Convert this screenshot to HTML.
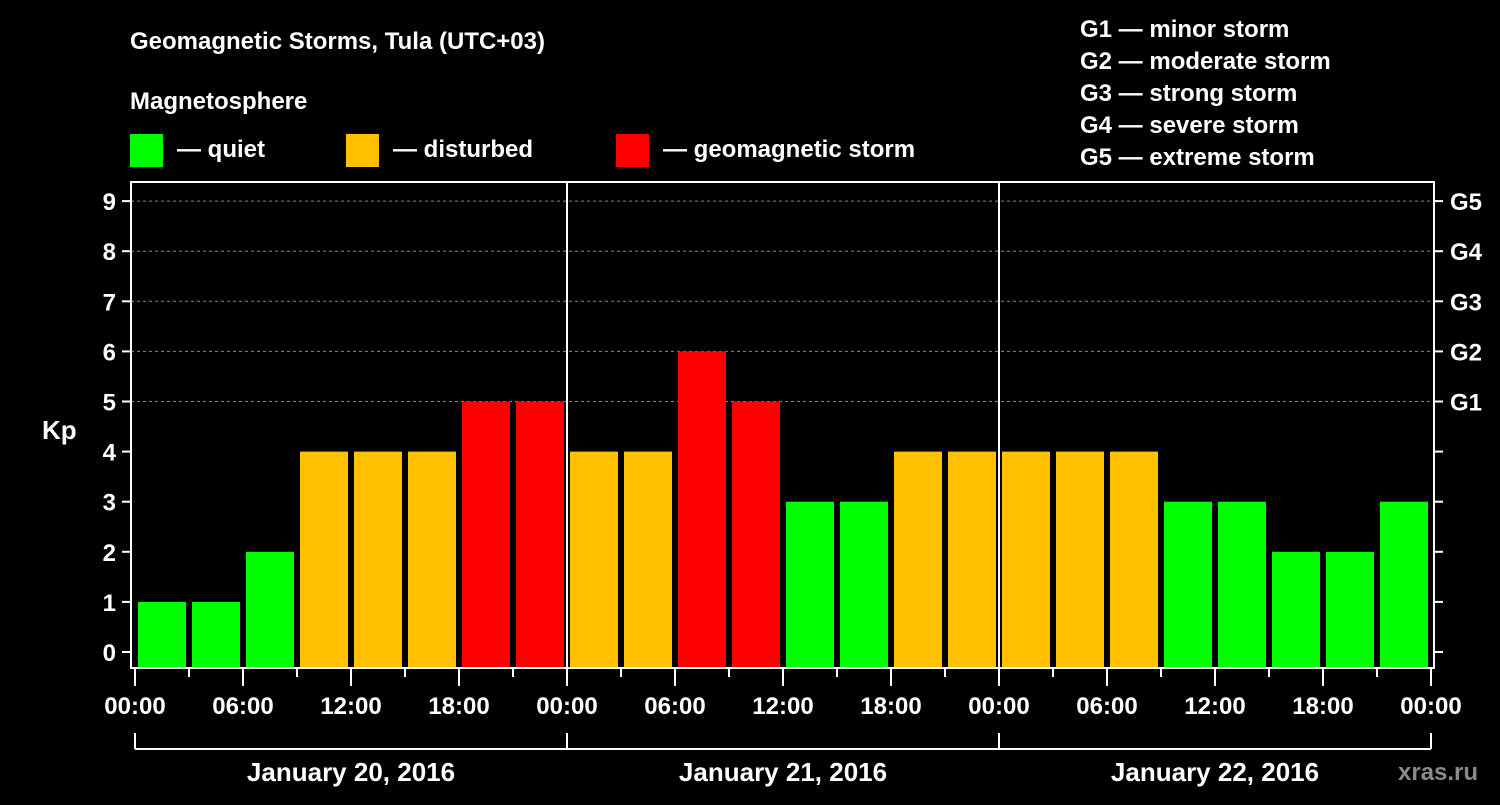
<!DOCTYPE html>
<html><head><meta charset="utf-8"><style>
body{margin:0;background:#000;}
svg text{font-family:"Liberation Sans",Arial,sans-serif;font-weight:bold;fill:#fff;}
</style></head><body>
<svg width="1500" height="800" xmlns="http://www.w3.org/2000/svg">
<rect width="1500" height="800" fill="#000"/>
<text x="130" y="49" font-size="24">Geomagnetic Storms, Tula (UTC+03)</text>
<text x="130" y="109" font-size="24">Magnetosphere</text>
<g><rect x="130" y="134" width="33" height="33" fill="#00ff00"/><text x="177" y="157" font-size="24">— quiet</text></g>
<g><rect x="346" y="134" width="33" height="33" fill="#ffc000"/><text x="393" y="157" font-size="24">— disturbed</text></g>
<g><rect x="616" y="134" width="33" height="33" fill="#ff0000"/><text x="663" y="157" font-size="24">— geomagnetic storm</text></g>
<g font-size="24">
<text x="1080" y="37">G1 — minor storm</text>
<text x="1080" y="69">G2 — moderate storm</text>
<text x="1080" y="101">G3 — strong storm</text>
<text x="1080" y="133">G4 — severe storm</text>
<text x="1080" y="165">G5 — extreme storm</text>
</g>
<text x="42" y="439" font-size="26">Kp</text>
<text x="1398" y="780" font-size="24" fill="#888" style="fill:#8a8a8a">xras.ru</text>
<g id="grid"></g><g id="bars"></g><g id="axes"></g>
<script>
const values=[1,1,2,4,4,4,5,5,4,4,6,5,3,3,4,4,4,4,4,3,3,2,2,3];
const yTicks=[0,1,2,3,4,5,6,7,8,9];
const gLabels=["G1","G2","G3","G4","G5"];
const gLevels=[5,6,7,8,9];
const timeLabels=["00:00","06:00","12:00","18:00","00:00","06:00","12:00","18:00","00:00","06:00","12:00","18:00","00:00"];
const dayLabels=["January 20, 2016","January 21, 2016","January 22, 2016"];
const X0=135,SLOT=54,Y0=652,UNIT=50.1,TOP=182,BOT=668,R=X0+SLOT*values.length;
const x=i=>X0+i*SLOT, y=k=>Y0-k*UNIT;
const NS="http://www.w3.org/2000/svg";
function mk(p,t,a){const e=document.createElementNS(NS,t);for(const k in a)e.setAttribute(k,a[k]);p.appendChild(e);return e;}
const G=document.getElementById('grid'),B=document.getElementById('bars'),A=document.getElementById('axes');
gLevels.forEach((k,i)=>{const l=mk(G,'line',{x1:131,x2:1434,y1:y(k),y2:y(k),stroke:'#888','stroke-dasharray':'3,3','stroke-width':1});


const t=mk(A,'text',{x:1450,y:y(k)+9,'font-size':24});t.textContent=gLabels[i];

});
values.forEach((v,i)=>{const c=v>=5?'#ff0000':(v>=4?'#ffc000':'#00ff00');
const r=mk(B,'rect',{x:x(i)+3,y:y(v),width:48,height:BOT-y(v),fill:c});

});
const f=mk(A,'rect',{x:131,y:TOP,width:1303,height:BOT-TOP,fill:'none',stroke:'#fff','stroke-width':2});


[1,2].forEach(d=>{const l=mk(A,'line',{x1:x(d*8),x2:x(d*8),y1:TOP,y2:BOT,stroke:'#fff','stroke-width':2});

});
yTicks.forEach(k=>{mk(A,'line',{x1:122,x2:131,y1:y(k),y2:y(k),stroke:'#fff','stroke-width':2});
mk(A,'line',{x1:1434,x2:1443,y1:y(k),y2:y(k),stroke:'#fff','stroke-width':2});
const t=mk(A,'text',{x:116,y:y(k)+9,'font-size':24,'text-anchor':'end'});t.textContent=k;

});
for(let i=0;i<=values.length;i++){const maj=i%2==0;
mk(A,'line',{x1:x(i),x2:x(i),y1:BOT,y2:BOT+(maj?18:9),stroke:'#fff','stroke-width':2});}
timeLabels.forEach((s,j)=>{const t=mk(A,'text',{x:x(j*2),y:714,'font-size':24,'text-anchor':'middle'});t.textContent=s;

});
mk(A,'line',{x1:X0,x2:R,y1:749,y2:749,stroke:'#fff','stroke-width':2});
for(let d=0;d<=3;d++)mk(A,'line',{x1:x(d*8),x2:x(d*8),y1:733,y2:749,stroke:'#fff','stroke-width':2});
dayLabels.forEach((s,d)=>{const t=mk(A,'text',{x:x(d*8+4),y:781,'font-size':26,'text-anchor':'middle'});t.textContent=s;

});
</script>
</svg>
</body></html>
